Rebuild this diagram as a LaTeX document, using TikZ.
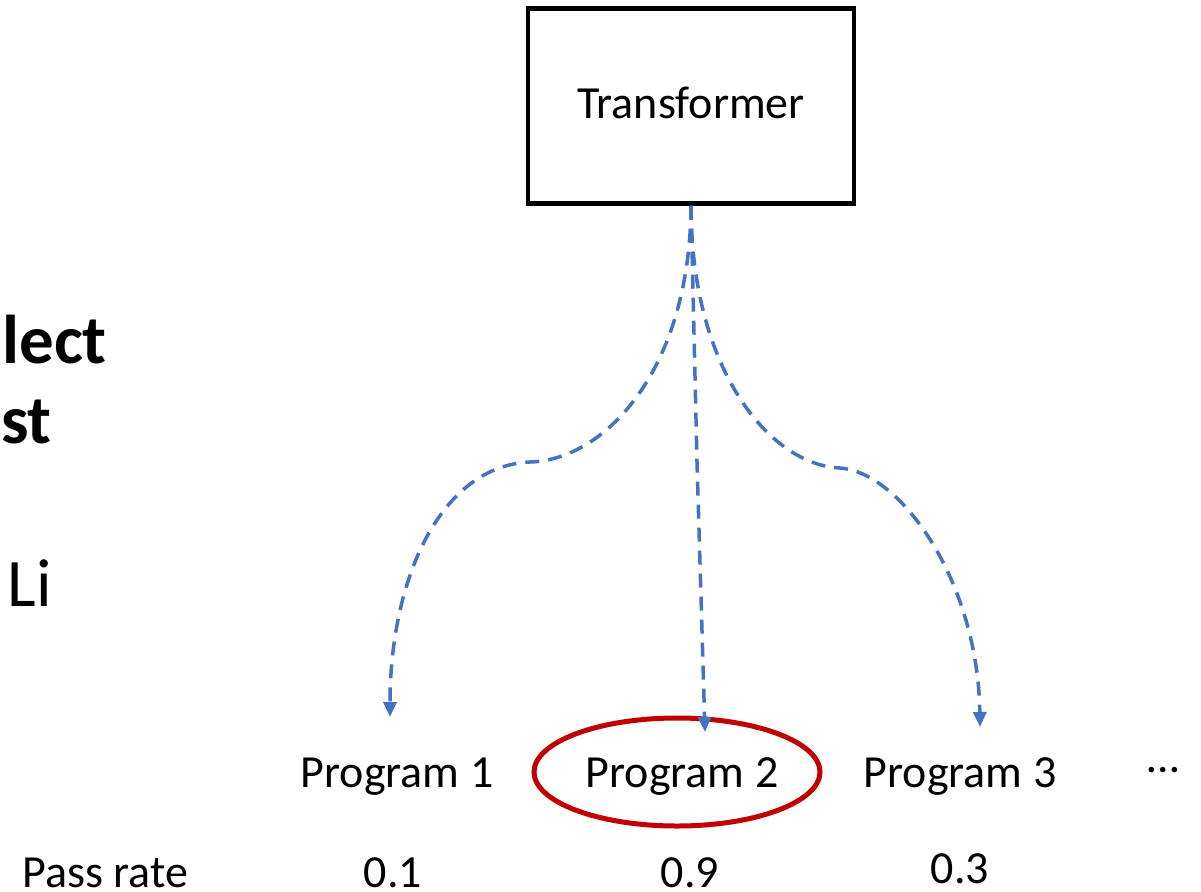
\documentclass[tikz,border=0pt]{standalone}
\usepackage{fontspec}
\setmainfont{Carlito}
\usetikzlibrary{arrows.meta,shapes.geometric}
\definecolor{arrowblue}{HTML}{4472C4}
\definecolor{darkred}{HTML}{C00000}
\begin{document}
\begin{tikzpicture}[x=1pt,y=-1pt,
  lbl/.style={font=\fontsize{46}{55}\selectfont, inner sep=0pt},
  big/.style={font=\fontsize{69}{80}\selectfont\bfseries, inner sep=0pt},
  bigr/.style={font=\fontsize{68}{80}\selectfont, inner sep=0pt},
  flow/.style={draw=arrowblue, line width=3.5pt, dash pattern=on 14pt off 9pt,
    -{Triangle[length=15pt,width=13pt]}},
  boxnode/.style={draw, line width=4.5pt, minimum width=326pt, minimum height=195pt, inner sep=0pt}]
\useasboundingbox (0,0) rectangle (1201,891);
\node[boxnode] (tf) at (691,106) {};
\node[lbl] (tft) at (691,103) {Transformer};
\node[big, anchor=base east] (t1) at (107,363) {lect};
\node[big, anchor=base east] (t2) at (52,443) {st};
\node[bigr, anchor=base east] (t3) at (52,606) {Li};
\node[lbl, anchor=base] (p1) at (397,787) {Program 1};
\node[lbl, anchor=base] (p2) at (682,787) {Program 2};
\node[lbl, anchor=base] (p3) at (960,787) {Program 3};
\node[lbl, anchor=base] (dots) at (1163,772) {…};
\node[draw=darkred, line width=5pt, ellipse, minimum width=286pt, minimum height=108pt, inner sep=0pt] (sel) at (677,772) {};
\node[lbl, anchor=base west] (pr) at (22,887) {Pass rate};
\node[lbl, anchor=base] (r1) at (393,887) {0.1};
\node[lbl, anchor=base] (r2) at (690,887) {0.9};
\node[lbl, anchor=base] (r3) at (960,883) {0.3};
\coordinate (e1) at (390,717);
\coordinate (e2) at (705,732);
\coordinate (e3) at (980,727);
\coordinate (m2) at (697,462);
\draw[flow] (tf.south) .. controls (690,370) and (605,460) .. (530,462)
  .. controls (440,466) and (390,580) .. (e1);
\draw[flow] (tf.south) -- (m2) -- (e2);
\draw[flow] (tf.south) .. controls (691,370) and (770,465) .. (840,468)
  .. controls (900,472) and (978,580) .. (e3);
\end{tikzpicture}
\end{document}
